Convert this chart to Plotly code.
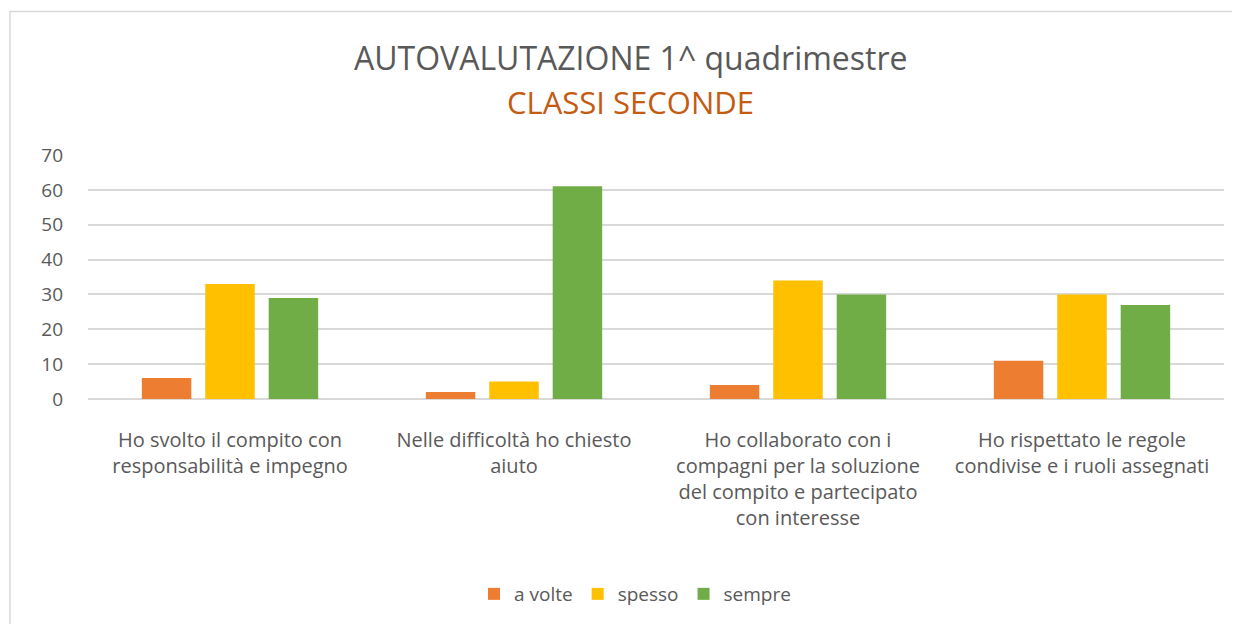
import plotly.graph_objects as go

categories = [
    "Ho svolto il compito con<br>responsabilità e impegno",
    "Nelle difficoltà ho chiesto<br>aiuto",
    "Ho collaborato con i<br>compagni per la soluzione<br>del compito e partecipato<br>con interesse",
    "Ho rispettato le regole<br>condivise e i ruoli assegnati",
]
a_volte = [6, 2, 4, 11]
spesso = [33, 5, 34, 30]
sempre = [29, 61, 30, 27]
series_names = ["a volte", "spesso", "sempre"]
colors = ["#ED7D31", "#FFC000", "#70AD47"]

FONT = "Open Sans, sans-serif"

OFF = 8  # page body margin
W, H = 1232, 616
# plot area in screenshot pixels: x 88..1224, y 155..400
L = 88 - OFF
T = 155 - OFF
R = W - (1224 - OFF)
B = H - (400 - OFF)
pw, ph = W - L - R, H - T - B

def px(x):
    return (x - OFF - L) / pw

def py(y):
    return (H - B - (y - OFF)) / ph

fig = go.Figure()
for name, vals, c in zip(series_names, [a_volte, spesso, sempre], colors):
    fig.add_trace(go.Bar(x=categories, y=vals, name=name, marker=dict(color=c, line=dict(width=0))))

fig.update_layout(
    width=W, height=H,
    margin=dict(l=L, r=R, t=T, b=B),
    paper_bgcolor="white", plot_bgcolor="white",
    barmode="group", bargap=0.33, bargroupgap=0.22,
    font=dict(family=FONT, color="#595959", size=19),
    showlegend=True,
    legend=dict(orientation="h", x=px(635), xanchor="center", y=py(594), yanchor="middle",
                font=dict(size=19, color="#595959"), itemwidth=30, tracegroupgap=0),
    xaxis=dict(showgrid=False, showline=False, ticks="", tickfont=dict(size=20, color="#595959"),
               ticklabelstandoff=27),
    yaxis=dict(range=[0, 70], dtick=10, showgrid=True, gridcolor="#D9D9D9", gridwidth=1.5,
               zeroline=True, zerolinecolor="#D9D9D9", zerolinewidth=1.5,
               showline=False, ticks="", tickfont=dict(size=19, color="#595959"), ticklabelstandoff=24),
    annotations=[
        dict(text="AUTOVALUTAZIONE 1^ quadrimestre", xref="paper", yref="paper",
             x=px(631), y=py(57), xanchor="center", yanchor="middle", showarrow=False,
             font=dict(size=32, color="#595959", family=FONT)),
        dict(text="CLASSI SECONDE", xref="paper", yref="paper",
             x=px(630), y=py(102), xanchor="center", yanchor="middle", showarrow=False,
             font=dict(size=31, color="#C55A11", family=FONT)),
    ],
    shapes=[
        dict(type="rect", xref="paper", yref="paper", x0=px(10), x1=px(1260), y0=py(11), y1=py(660),
             line=dict(color="#D9D9D9", width=1.5), fillcolor="rgba(0,0,0,0)", layer="below"),
    ],
)

fig.write_html("out.html")
